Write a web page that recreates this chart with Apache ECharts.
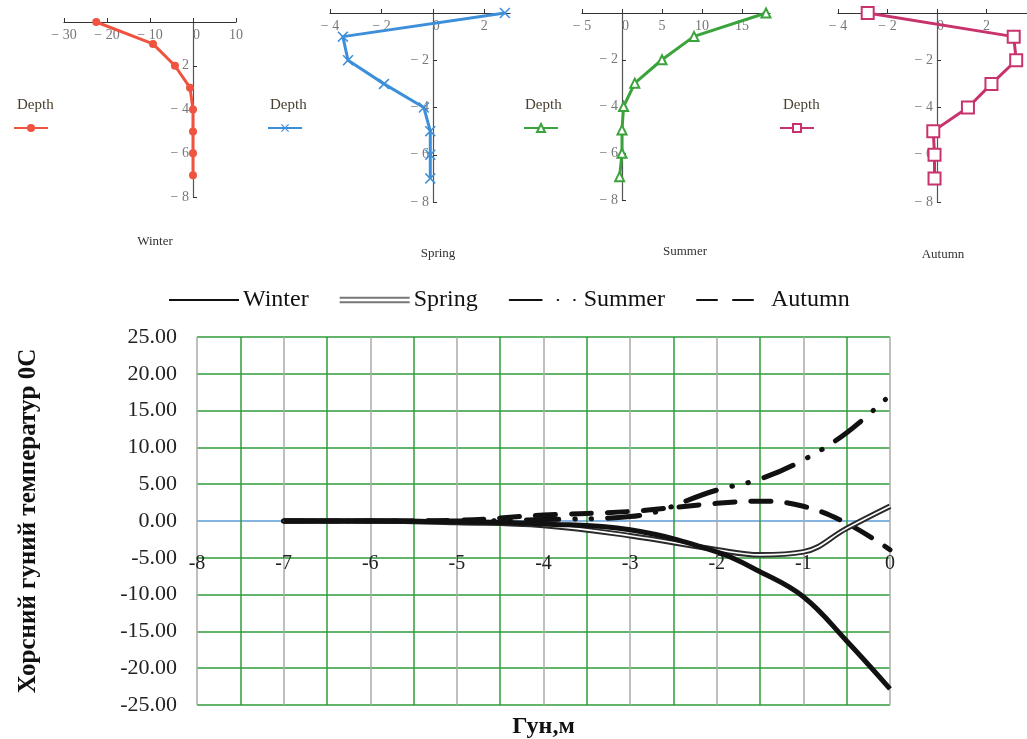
<!DOCTYPE html>
<html>
<head>
<meta charset="utf-8">
<script src="https://cdn.jsdelivr.net/npm/echarts@6/dist/echarts.min.js"></script>
<style>html,body{margin:0;padding:0;background:#fff}#c{width:1027px;height:739px}</style>
</head>
<body>
<div id="c"></div>
<script>
// ---- main chart data ----
const depthsMain = [-7, -6, -5, -4, -3, -2, -1.5, -1, -0.5, 0];
const winterMain = [0, 0, -0.1, -0.4, -1.2, -4.2, -6.9, -10.3, -16.3, -22.8];
const springMain = [0, 0, -0.2, -0.6, -2.0, -3.9, -4.6, -4.2, -1.0, 2.0];
const summerMain = [0, 0, 0, 0.2, 0.6, 4.2, 5.7, 8.3, 12.0, 17.1];
const autumnMain = [0, 0, 0.1, 0.8, 1.3, 2.4, 2.7, 2.0, -0.3, -3.9];
const mainSeriesNames = ['Winter', 'Spring', 'Summer', 'Autumn'];
const yTicksMain = [-25, -20, -15, -10, -5, 0, 5, 10, 15, 20, 25];
const xTicksMain = [-8, -7, -6, -5, -4, -3, -2, -1, 0];

// ---- small chart data (value, depth) ----
const depthsTop = [0, -1, -2, -3, -4, -5, -6, -7];
const winterTop = [-22.5, -9.3, -4.2, -0.7, 0, 0, 0, 0];
const springTop = [2.8, -3.5, -3.3, -1.9, -0.35, -0.1, -0.1, -0.1];
const summerTop = [18, 9, 5, 1.6, 0.2, 0, 0, -0.3];
const autumnTop = [-2.8, 3.1, 3.2, 2.2, 1.25, -0.15, -0.1, -0.1];
const topTitles = ['Winter', 'Spring', 'Summer', 'Autumn'];
const topXRanges = [[-30, 10, 10], [-4, 3, 2], [-5, 18.5, 5], [-4, 4, 2]];

const serif = 'Liberation Serif, Times New Roman, serif';
const pairs = (xs, ys) => xs.map((x, i) => [x, ys[i]]);

const chart = echarts.init(document.getElementById('c'));

const grids = [
  {left: 197, top: 337, width: 693, height: 368},
  {left: 64, top: 22, width: 172, height: 175},
  {left: 330, top: 13, width: 180, height: 189},
  {left: 582, top: 13, width: 188, height: 187},
  {left: 838, top: 13, width: 198, height: 189}
].map(g => Object.assign(g, {outerBoundsMode: 'none', containLabel: false}));

const green = '#2f9d3a';
const yLineColors = yTicksMain.map(v => v === 0 ? '#5b9bd5' : green);

const xAxes = [{
  gridIndex: 0, type: 'value', position: 'bottom',
  min: xTicksMain[0], max: xTicksMain[xTicksMain.length - 1], interval: 1,
  name: 'Гун,м', nameLocation: 'middle', nameGap: 10,
  nameTextStyle: {fontFamily: serif, fontWeight: 'bold', fontSize: 24, color: '#111'},
  axisLine: {show: false, onZero: false},
  axisTick: {show: false},
  minorTick: {show: false, splitNumber: 2},
  axisLabel: {inside: true, margin: 131, fontFamily: serif, fontSize: 20, color: '#222'},
  splitLine: {show: true, lineStyle: {color: '#aaaaaa', width: 1.5}},
  minorSplitLine: {show: true, lineStyle: {color: green, width: 1.5}}
}];
const yAxes = [{
  gridIndex: 0, type: 'value',
  min: yTicksMain[0], max: yTicksMain[yTicksMain.length - 1], interval: 5,
  name: 'Хорсний гуний температур 0С', nameLocation: 'middle', nameGap: 156, nameRotate: 90,
  nameTextStyle: {fontFamily: serif, fontWeight: 'bold', fontSize: 25, color: '#111'},
  axisLine: {show: false, onZero: false}, axisTick: {show: false},
  axisLabel: {margin: 20, fontFamily: serif, fontSize: 22, color: '#222', formatter: v => v.toFixed(2)},
  splitLine: {show: true, lineStyle: {color: yLineColors, width: 1.5}}
}];

topXRanges.forEach((r, i) => {
  const g = grids[i + 1];
  xAxes.push({
    gridIndex: i + 1, type: 'value', position: 'top',
    min: r[0], max: r[1], interval: r[2],
    axisLine: {onZero: false, lineStyle: {color: '#333', width: 1.2}},
    axisTick: {show: true, length: 4, lineStyle: {color: '#333'}},
    axisLabel: {inside: true, margin: 6, showMaxLabel: r[1] % r[2] === 0, fontFamily: serif, fontSize: 14, color: '#777',
      formatter: v => v < 0 ? '− ' + (-v) : (v === 0 ? '  0' : String(v))},
    splitLine: {show: false}
  });
  yAxes.push({
    gridIndex: i + 1, type: 'value', min: -8, max: 0, interval: 2,
    offset: -Math.round((0 - r[0]) / (r[1] - r[0]) * g.width),
    axisLine: {onZero: false, lineStyle: {color: '#555', width: 1.2}},
    axisTick: {show: true, length: 4, inside: true, lineStyle: {color: '#333'}},
    axisLabel: {margin: 4, fontFamily: serif, fontSize: 14, color: '#777',
      formatter: v => v === 0 ? '' : '− ' + (-v)},
    splitLine: {show: false}
  });
});

const topStyles = [
  {color: '#f0533f', symbol: 'circle', size: 8},
  {color: '#3d8fd9', symbol: 'path://M0,1L1,0L5,4L9,0L10,1L6,5L10,9L9,10L5,6L1,10L0,9L4,5Z', size: 11},
  {color: '#3ba33b', symbol: 'emptyTriangle', size: 9},
  {color: '#c8336e', symbol: 'emptyRect', size: 12}
];
const topData = [winterTop, springTop, summerTop, autumnTop];

const series = [
  {name: 'Winter', type: 'line', xAxisIndex: 0, yAxisIndex: 0, smooth: 0.4, symbol: 'none',
   data: pairs(depthsMain, winterMain), lineStyle: {color: '#111', width: 5}, itemStyle: {color: '#111'}, z: 5},
  {name: 'Spring', type: 'line', xAxisIndex: 0, yAxisIndex: 0, smooth: 0.4, symbol: 'none',
   data: pairs(depthsMain, springMain), lineStyle: {color: '#2a2a2a', width: 5.5}, itemStyle: {color: '#777'}, z: 4},
  {name: 'SpringInner', type: 'line', xAxisIndex: 0, yAxisIndex: 0, smooth: 0.4, symbol: 'none',
   data: pairs(depthsMain, springMain), lineStyle: {color: '#fff', width: 1.6}, z: 4, silent: true},
  {name: 'Summer', type: 'line', xAxisIndex: 0, yAxisIndex: 0, smooth: 0.4, symbol: 'none',
   data: pairs(depthsMain, summerMain),
   lineStyle: {color: '#111', width: 5, type: [32, 16, 0.5, 16, 0.5, 16], cap: 'round'}, itemStyle: {color: '#111'}, z: 3},
  {name: 'Autumn', type: 'line', xAxisIndex: 0, yAxisIndex: 0, smooth: 0.4, symbol: 'none',
   data: pairs(depthsMain, autumnMain),
   lineStyle: {color: '#111', width: 5, type: [20, 16], cap: 'round'}, itemStyle: {color: '#111'}, z: 3}
];

topData.forEach((vals, i) => {
  const st = topStyles[i];
  series.push({
    name: 'Depth ' + topTitles[i], type: 'line', xAxisIndex: i + 1, yAxisIndex: i + 1,
    data: pairs(vals, depthsTop), symbol: st.symbol, symbolSize: st.size,
    lineStyle: {color: st.color, width: 3}, itemStyle: {color: st.color, borderColor: st.color, borderWidth: st.symbol.indexOf('empty') === 0 ? 1.5 : 0}
  });
});

const hideSym = {opacity: 0};
const legends = [{
  data: [
    {name: 'Winter', itemStyle: hideSym},
    {name: 'Spring', icon: 'path://M0,0H70V2H0Z M0,4.5H70V6.5H0Z', itemStyle: {color: '#777', borderWidth: 0}},
    {name: 'Summer', itemStyle: hideSym},
    {name: 'Autumn', itemStyle: hideSym}
  ],
  left: 163, top: 283, itemWidth: 70, itemHeight: 7, itemGap: 31,
  textStyle: {fontFamily: serif, fontSize: 24, color: '#111', padding: [0, 0, 0, -1]},
  selectedMode: false
}];
const legendLeft = [8, 262, 518, 774];
topTitles.forEach((t, i) => {
  legends.push({
    data: ['Depth ' + t], left: legendLeft[i], top: 118, itemWidth: 34, itemHeight: 10,
    formatter: () => '', selectedMode: false, textStyle: {fontSize: 1}
  });
});

const titles = [];
const depthLabelLeft = [12, 265, 520, 778];
const seasonCenter = [150, 433, 680, 938];
const seasonTop = [230, 242, 240, 243];
topTitles.forEach((t, i) => {
  titles.push({text: 'Depth', left: depthLabelLeft[i], top: 93,
    textStyle: {fontFamily: serif, fontSize: 15, fontWeight: 'normal', color: '#4a4030'}});
  titles.push({text: t, left: seasonCenter[i], top: seasonTop[i], textAlign: 'center',
    textStyle: {fontFamily: serif, fontSize: 13, fontWeight: 'normal', color: '#333'}});
});

chart.setOption({
  animation: false,
  backgroundColor: '#fff',
  title: titles,
  legend: legends,
  grid: grids,
  xAxis: xAxes,
  yAxis: yAxes,
  series: series
});
</script>
</body>
</html>
